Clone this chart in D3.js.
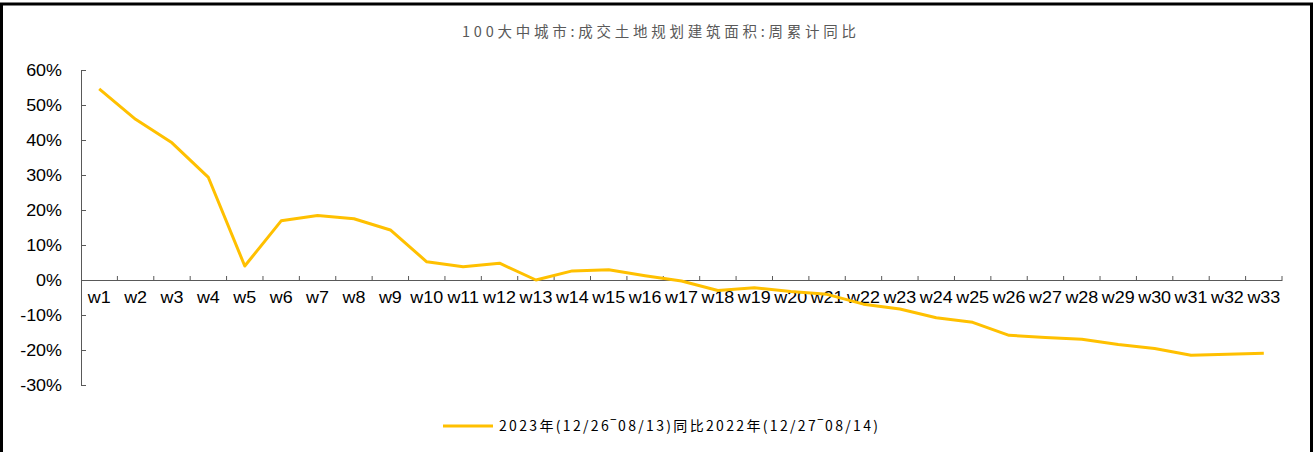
<!DOCTYPE html>
<html>
<head>
<meta charset="utf-8">
<script src="https://cdn.jsdelivr.net/npm/d3@7"></script>
<style>
  html, body { margin: 0; padding: 0; background: #fff; }
  svg { display: block; }
</style>
</head>
<body>
<svg id="chart" width="1315" height="452"></svg>
<script>
// Weekly labels and cumulative year-on-year change (%)
const weeks = ["w1","w2","w3","w4","w5","w6","w7","w8","w9","w10","w11","w12","w13","w14","w15","w16","w17",
               "w18","w19","w20","w21","w22","w23","w24","w25","w26","w27","w28","w29","w30","w31","w32","w33"];
const yoy = [54.6, 45.9, 39.2, 29.3, 4.0, 16.9, 18.4, 17.5, 14.3, 5.2, 3.8, 4.8, 0.0, 2.6, 2.9, 1.2, -0.3,
             -3.0, -2.2, -3.3, -4.1, -6.9, -8.3, -10.8, -12.1, -15.8, -16.4, -16.9, -18.4, -19.6, -21.5, -21.2, -20.9];
const yTicks = [60, 50, 40, 30, 20, 10, 0, -10, -20, -30];
const titleText = "100大中城市:成交土地规划建筑面积:周累计同比";
const legendText = "2023年(12/26‾08/13)同比2022年(12/27‾08/14)";

(function draw() {
  const svg = d3.select("#chart");
  const H = 452;
  const stretch = 1.12; // labels are set slightly wide

  // outer frame
  svg.append("rect").attr("x", 1.5).attr("y", 4).attr("width", 1310).attr("height", H + 10)
    .attr("fill", "none").attr("stroke", "#000").attr("stroke-width", 3);

  const plot = { left: 81, right: 1282, top: 70, bottom: 385 };

  const x = d3.scaleBand().domain(weeks).range([plot.left, plot.right]);
  const y = d3.scaleLinear().domain([-30, 60]).range([plot.bottom, plot.top]);

  // widen axis label glyphs around their anchor point
  function widen(sel) {
    sel.each(function () {
      const t = d3.select(this);
      const x0 = +t.attr("x") || 0;
      t.attr("x", 0).attr("transform", `translate(${x0},0) scale(${stretch},1)`);
    });
  }

  // title
  svg.append("text").attr("x", 462).attr("y", 37)
    .attr("font-family", "'Noto Sans CJK SC', sans-serif").attr("font-size", 14.5)
    .attr("textLength", 394).attr("lengthAdjust", "spacing")
    .attr("fill", "#595959").text(titleText);

  // y axis
  const yAxis = svg.append("g").attr("transform", `translate(${plot.left},0)`)
    .call(d3.axisLeft(y).tickValues(yTicks).tickFormat(d => d + "%").tickSizeInner(-5).tickSizeOuter(-5).tickPadding(19));
  yAxis.select(".domain").attr("stroke", "#595959");
  yAxis.selectAll(".tick line").attr("stroke", "#595959");
  yAxis.selectAll("text").attr("font-family", "'Liberation Sans', Arial, sans-serif")
    .attr("font-size", 16).attr("fill", "#000").call(widen);

  // x axis at zero
  const xAxis = svg.append("g").attr("transform", `translate(0,${y(0)})`)
    .call(d3.axisBottom(x).tickSize(0).tickPadding(12));
  xAxis.select(".domain").attr("stroke", "#595959");
  xAxis.selectAll("text").attr("font-family", "'Liberation Sans', Arial, sans-serif")
    .attr("font-size", 16).attr("fill", "#000").call(widen);
  // boundary ticks between categories, pointing up
  const bounds = weeks.slice(1).map(w => x(w)).concat([plot.right]);
  svg.append("g").selectAll("line").data(bounds).join("line")
    .attr("x1", d => d).attr("x2", d => d)
    .attr("y1", y(0)).attr("y2", y(0) - 4)
    .attr("stroke", "#595959");

  // series line
  const line = d3.line()
    .x((d, i) => x(weeks[i]) + x.bandwidth() / 2)
    .y(d => y(d));
  svg.append("path").datum(yoy).attr("d", line)
    .attr("fill", "none").attr("stroke", "#FFC000").attr("stroke-width", 3)
    .attr("stroke-linejoin", "round");

  // legend
  svg.append("line").attr("x1", 443).attr("x2", 493).attr("y1", 426).attr("y2", 426)
    .attr("stroke", "#FFC000").attr("stroke-width", 3);
  svg.append("text").attr("x", 499).attr("y", 431)
    .attr("font-family", "'Noto Sans CJK SC', sans-serif").attr("font-size", 14)
    .attr("textLength", 379).attr("lengthAdjust", "spacing")
    .attr("fill", "#000").text(legendText);
})();
</script>
</body>
</html>
